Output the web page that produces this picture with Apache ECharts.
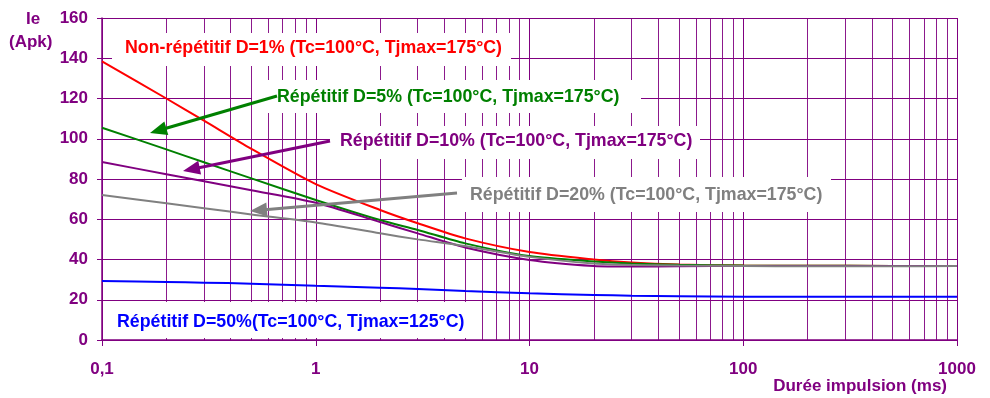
<!DOCTYPE html>
<html>
<head>
<meta charset="utf-8">
<script src="https://cdn.jsdelivr.net/npm/echarts@6/dist/echarts.min.js"></script>
<style>
  html, body { margin: 0; padding: 0; background: #fff; }
  #chart { width: 990px; height: 398px; }
</style>
</head>
<body>
<div id="chart"></div>
<script>
// durées d'impulsion (ms)
var durees = [0.1, 0.2, 0.3, 0.5, 1, 2, 3, 5, 10, 20, 30, 50, 100, 200, 500, 1000]
// courant Ie (Apk)
var nonRep1 = [138.5, 120, 109, 95, 77.5, 64.6, 58, 50.5, 43.7, 40, 38.5, 37.5, 37, 36.9, 36.8, 36.8]
var rep5 = [105.5, 94.7, 88.3, 80.3, 69.6, 59.6, 54.7, 48, 41.7, 39, 38, 37.4, 37, 36.9, 36.8, 36.8]
var rep10 = [88.4, 82.4, 78.9, 74.4, 68.2, 58.6, 53, 46, 39.8, 36.8, 36.5, 36.6, 36.8, 36.8, 36.8, 36.8]
var rep20 = [72, 67.9, 65.5, 62.4, 58.4, 53, 50, 46.7, 41.3, 38, 37.3, 37, 36.8, 36.6, 36.6, 36.8]
var rep50 = [29.3, 28.8, 28.5, 28, 27, 26, 25.3, 24.3, 23.2, 22.4, 22, 21.8, 21.5, 21.5, 21.5, 21.5]
// lignes de grille secondaires (échelle log)
var minorTicks = [0.2, 0.3, 0.4, 0.5, 0.6, 0.7, 0.8, 0.9,
  2, 3, 4, 5, 6, 7, 8, 9,
  20, 30, 40, 50, 60, 70, 80, 90,
  200, 300, 400, 500, 600, 700, 800, 900]

var violet = '#800080'
var police = "'Liberation Sans', Arial, sans-serif"

function pairs(ys) {
  return durees.map(function (x, i) { return [x, ys[i]] })
}

// étiquette avec fond blanc
function etiquette(txt, color, box, tx, ty) {
  return {
    type: 'group',
    children: [
      { type: 'rect', z: 10, shape: { x: box[0], y: box[1], width: box[2] - box[0], height: box[3] - box[1] }, style: { fill: '#fff' } },
      { type: 'text', z: 11, x: tx, y: ty, style: { text: txt, fill: color, font: 'bold 17.8px ' + police, textVerticalAlign: 'middle' } }
    ]
  }
}

// flèche (x1,y1) -> pointe (x2,y2)
function fleche(x1, y1, x2, y2, color, w) {
  var dx = x2 - x1, dy = y2 - y1
  var len = Math.sqrt(dx * dx + dy * dy)
  var ux = dx / len, uy = dy / len
  var hl = 17, hw = 7
  var bx = x2 - ux * hl, by = y2 - uy * hl
  return {
    type: 'group',
    children: [
      { type: 'line', z: 12, shape: { x1: x1, y1: y1, x2: bx + ux * 2, y2: by + uy * 2 }, style: { stroke: color, lineWidth: w } },
      { type: 'polygon', z: 12, shape: { points: [[x2, y2], [bx - uy * hw, by + ux * hw], [bx + uy * hw, by - ux * hw]] }, style: { fill: color } }
    ]
  }
}

var myChart = echarts.init(document.getElementById('chart'))

function serie(name, data, color) {
  return {
    name: name,
    type: 'line',
    data: pairs(data),
    smooth: 0.25,
    showSymbol: false,
    lineStyle: { color: color, width: 2 },
    itemStyle: { color: color },
    z: 3
  }
}

var series = [
  serie('Non-répétitif D=1%', nonRep1, '#ff0000'),
  serie('Répétitif D=5%', rep5, '#008000'),
  serie('Répétitif D=10%', rep10, '#800080'),
  serie('Répétitif D=20%', rep20, '#808080'),
  serie('Répétitif D=50%', rep50, '#0000ff')
]
// grille secondaire
series[4].markLine = {
  silent: true,
  symbol: ['none', 'none'],
  label: { show: false },
  lineStyle: { color: violet, type: 'solid', width: 1, opacity: 0.9 },
  data: minorTicks.map(function (v) { return { xAxis: v } }),
  animation: false,
  z: 1
}

var option = {
  animation: false,
  grid: { left: 102, right: 33, top: 18, bottom: 58 },
  xAxis: {
    type: 'log',
    logBase: 10,
    min: 0.1,
    max: 1000,
    axisLine: { show: true, lineStyle: { color: violet, width: 1.5 } },
    axisTick: { show: true, length: 6, lineStyle: { color: violet } },
    minorTick: { show: false },
    splitLine: { show: true, lineStyle: { color: violet, width: 1 } },
    axisLabel: {
      color: violet,
      fontWeight: 'bold',
      fontSize: 17,
      fontFamily: police,
      margin: 21,
      formatter: function (v) { return String(v).replace('.', ',') }
    }
  },
  yAxis: {
    type: 'value',
    min: 0,
    max: 160,
    interval: 20,
    axisLine: { show: true, lineStyle: { color: violet, width: 1.5 } },
    axisTick: { show: true, length: 5, lineStyle: { color: violet } },
    splitLine: { show: true, lineStyle: { color: violet, width: 1 } },
    axisLabel: { color: violet, fontWeight: 'bold', fontSize: 17, fontFamily: police, margin: 14 }
  },
  series: series,
  graphic: [
    { type: 'text', left: 26, top: 11, style: { text: 'Ie', fill: violet, font: 'bold 17px ' + police } },
    { type: 'text', left: 9, top: 34, style: { text: '(Apk)', fill: violet, font: 'bold 17px ' + police } },
    { type: 'text', right: 43, top: 378, style: { text: 'Durée impulsion (ms)', fill: violet, font: 'bold 17px ' + police } },
    etiquette('Non-répétitif D=1% (Tc=100°C, Tjmax=175°C)', '#ff0000', [112, 33, 511, 66], 125, 48),
    etiquette('Répétitif D=5% (Tc=100°C, Tjmax=175°C)', '#008000', [252, 80, 641, 113], 277, 97),
    etiquette('Répétitif D=10% (Tc=100°C, Tjmax=175°C)', '#800080', [330, 126, 700, 159], 340, 141),
    etiquette('Répétitif D=20% (Tc=100°C, Tjmax=175°C)', '#808080', [462, 177, 831, 212], 470, 195),
    etiquette('Répétitif D=50%(Tc=100°C, Tjmax=125°C)', '#0000ff', [103, 302, 476, 338], 117, 322),
    fleche(277, 96, 150, 133, '#008000', 3),
    fleche(330, 141, 183, 171, '#800080', 3),
    fleche(457, 193, 250, 211, '#808080', 3)
  ]
}

myChart.setOption(option)
</script>
</body>
</html>
